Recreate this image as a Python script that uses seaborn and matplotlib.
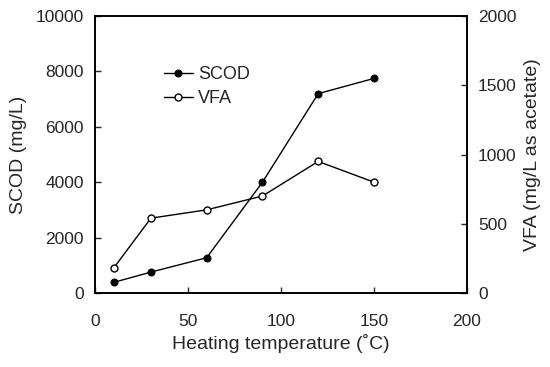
import matplotlib.pyplot as plt
import pandas as pd
import seaborn as sns

# values
temperature = [10, 30, 60, 90, 120, 150]
scod = [380, 750, 1270, 4000, 7200, 7750]
vfa = [180, 540, 600, 700, 950, 800]

sns.set_style("ticks")
plt.rcParams['font.family'] = ['Liberation Sans', 'DejaVu Sans']

data = pd.DataFrame({"temperature": temperature, "SCOD": scod, "VFA": vfa})

fig, ax = plt.subplots(figsize=(5.5, 3.67), dpi=100)
fig.subplots_adjust(left=0.173, right=0.849, top=0.956, bottom=0.202)
ax2 = ax.twinx()

sns.lineplot(x="temperature", y="SCOD", data=data, ax=ax, color="black", lw=1,
             marker="o", markersize=5, markerfacecolor="black",
             markeredgecolor="black", legend=False)
sns.lineplot(x="temperature", y="VFA", data=data, ax=ax2, color="black", lw=1,
             marker="o", markersize=5, markerfacecolor="white",
             markeredgecolor="black", markeredgewidth=1, legend=False)

ax.set_xlim(0, 200)
ax.set_ylim(0, 10000)
ax2.set_ylim(0, 2000)
ax.set_xticks(range(0, 201, 50))
ax.set_yticks(range(0, 10001, 2000))
ax2.set_yticks(range(0, 2001, 500))

for a in (ax, ax2):
    a.tick_params(direction="in", length=4, width=1, labelsize=12.5, pad=8)
    for s in a.spines.values():
        s.set_linewidth(1.2)
        s.set_color("black")
ax.tick_params(axis="x", pad=15)

ax.set_xlabel("Heating temperature (˚C)", fontsize=14, labelpad=4)
ax.set_ylabel("SCOD (mg/L)", fontsize=14, labelpad=6)
ax2.set_ylabel("VFA (mg/L as acetate)", fontsize=14, labelpad=5)

handles = ax.get_lines() + ax2.get_lines()
ax2.legend(handles, ["SCOD", "VFA"], loc="upper left", bbox_to_anchor=(0.165, 0.845),
           borderaxespad=0, frameon=False, fontsize=13, handlelength=1.6,
           handletextpad=0.3, labelspacing=0.4)

fig.savefig("out.png", dpi=100)
